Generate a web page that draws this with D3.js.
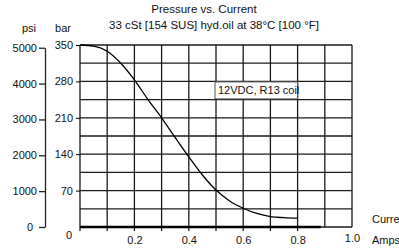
<!DOCTYPE html>
<html>
<head>
<meta charset="utf-8">
<script src="https://cdn.jsdelivr.net/npm/d3@7"></script>
<style>
body { margin: 0; background: #fff; }
svg text { font-family: "Liberation Sans", Arial, sans-serif; fill: #111; }
</style>
</head>
<body>
<div id="entry"></div>
<script>
// curve: current (A) vs pressure (bar)
var current = [0, 0.05, 0.1, 0.15, 0.2, 0.25, 0.3, 0.35, 0.4, 0.45, 0.5, 0.55, 0.6, 0.65, 0.7, 0.75, 0.8];
var pressure = [350, 348, 338, 315, 283, 245, 210, 172, 135, 100, 71, 50, 36, 26, 20, 18, 17];

var barTicks = [0, 70, 140, 210, 280, 350];
var psiTicks = [0, 1000, 2000, 3000, 4000, 5000];
var ampTicks = [0.2, 0.4, 0.6, 0.8, 1.0];
var psiPerBar = 14.5038;

var width = 399, height = 249;

var x = d3.scaleLinear().domain([0, 1]).range([80, 352]);
var y = d3.scaleLinear().domain([0, 350]).range([227, 45]);
var psi = d3.scaleLinear().domain([0, 5000]).range([y(0), y(5000 / psiPerBar)]);

var svg = d3.select("#entry").append("svg")
  .attr("width", width)
  .attr("height", height);

// grid
var grid = svg.append("g").attr("stroke", "#1a1a1a").attr("stroke-width", 1.3);
grid.selectAll("line.v")
  .data(d3.range(0, 11).map(function(i) { return i / 10; }))
  .enter().append("line")
  .attr("x1", function(d) { return x(d); })
  .attr("x2", function(d) { return x(d); })
  .attr("y1", y(350)).attr("y2", y(0));
grid.selectAll("line.h")
  .data(d3.range(0, 11).map(function(i) { return i * 35; }))
  .enter().append("line")
  .attr("x1", x(0)).attr("x2", x(1))
  .attr("y1", function(d) { return y(d); })
  .attr("y2", function(d) { return y(d); });

// heavy base line
svg.append("line")
  .attr("x1", x(0)).attr("x2", x(0.885))
  .attr("y1", y(0)).attr("y2", y(0))
  .attr("stroke", "#000").attr("stroke-width", 2.5);

// small ticks under the base line
svg.append("g").selectAll("line")
  .data(d3.range(0, 9).map(function(i) { return i / 10; }))
  .enter().append("line")
  .attr("x1", function(d) { return x(d); })
  .attr("x2", function(d) { return x(d); })
  .attr("y1", y(0)).attr("y2", y(0) + 4)
  .attr("stroke", "#111").attr("stroke-width", 1.2);

// curve
var line = d3.line()
  .x(function(d) { return x(d[0]); })
  .y(function(d) { return y(d[1]); })
  .curve(d3.curveMonotoneX);
svg.append("path")
  .datum(d3.zip(current, pressure))
  .attr("d", line)
  .attr("fill", "none")
  .attr("stroke", "#000")
  .attr("stroke-width", 1.3);

// bar axis
var barAxis = svg.append("g")
  .attr("transform", "translate(" + x(0) + ",0)")
  .call(d3.axisLeft(y).tickValues(barTicks).tickSize(4).tickPadding(3));
barAxis.select(".domain").remove();
barAxis.selectAll("text").style("font-size", "11px");
barAxis.selectAll(".tick").filter(function(d) { return d === 0; })
  .each(function() {
    d3.select(this).select("line").remove();
    d3.select(this).select("text").attr("x", -8).attr("dy", "1.05em");
  });

// psi axis
var psiAxis = svg.append("g")
  .attr("transform", "translate(45,0)")
  .call(d3.axisLeft(psi).tickValues(psiTicks).tickFormat(d3.format("d"))
    .tickSize(6).tickSizeOuter(0).tickPadding(2));
psiAxis.selectAll("text").style("font-size", "11px");
psiAxis.selectAll("line, path").attr("stroke", "#222").attr("stroke-width", 1.3);
psiAxis.selectAll(".tick").filter(function(d) { return d === 0; })
  .select("text").attr("x", -12);

// current axis labels
var ampAxis = svg.append("g")
  .attr("transform", "translate(0," + y(0) + ")")
  .call(d3.axisBottom(x).tickValues(ampTicks).tickFormat(d3.format(".1f")).tickSize(0).tickPadding(9));
ampAxis.select(".domain").remove();
ampAxis.selectAll("text").style("font-size", "11px");
ampAxis.selectAll(".tick").filter(function(d) { return d === 1; })
  .select("text").attr("y", 7);

// unit labels
svg.append("text").attr("x", 29).attr("y", 32).attr("text-anchor", "middle")
  .style("font-size", "11px").text("psi");
svg.append("text").attr("x", 63).attr("y", 32).attr("text-anchor", "middle")
  .style("font-size", "11px").text("bar");
svg.append("text").attr("x", 372).attr("y", 223)
  .style("font-size", "11px").text("Current");
svg.append("text").attr("x", 372).attr("y", 244)
  .style("font-size", "11px").text("Amps");

// title
svg.append("text").attr("x", 204).attr("y", 13).attr("text-anchor", "middle")
  .style("font-size", "11.5px").text("Pressure vs. Current");
svg.append("text").attr("x", 214).attr("y", 29).attr("text-anchor", "middle")
  .style("font-size", "11.5px").text("33 cSt [154 SUS] hyd.oil at 38°C [100 °F]");

// note box
var note = svg.append("g");
note.append("rect")
  .attr("x", x(0.5) - 1).attr("y", y(280) + 0.5)
  .attr("width", x(0.8) - x(0.5) + 1).attr("height", 17)
  .attr("fill", "#fff").attr("stroke", "#555").attr("stroke-width", 1);
note.append("text").attr("x", x(0.5) + 2).attr("y", y(280) + 13)
  .style("font-size", "11px").text("12VDC, R13 coil");
</script>
</body>
</html>
